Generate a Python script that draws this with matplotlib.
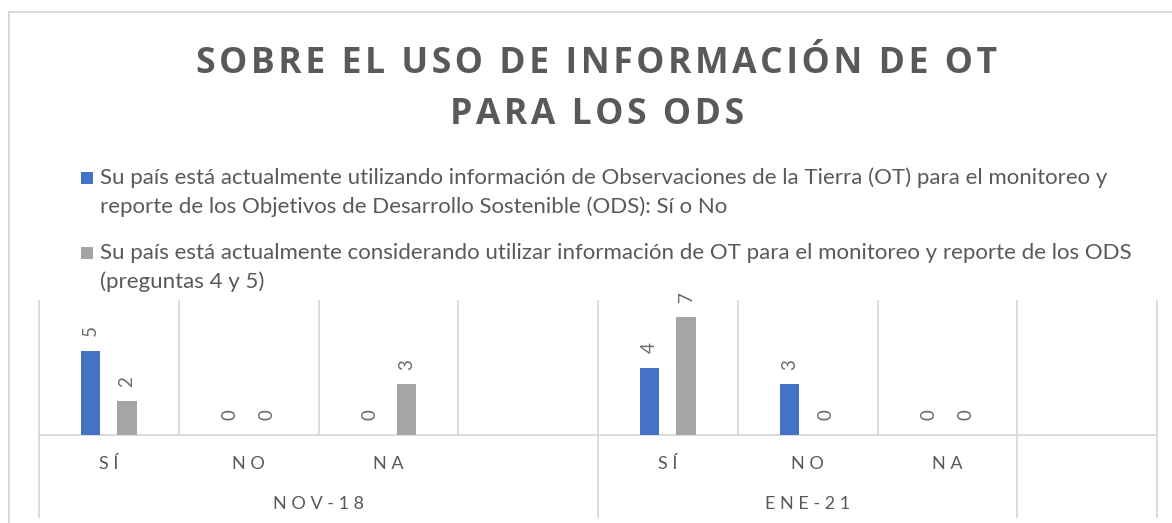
"""Sobre el uso de información de OT para los ODS: grouped bars, two survey rounds."""

import matplotlib

matplotlib.use("Agg")
import matplotlib.pyplot as plt  # noqa: E402
import numpy as np  # noqa: E402
from matplotlib.lines import Line2D  # noqa: E402
from matplotlib.patches import Rectangle  # noqa: E402
from matplotlib.transforms import blended_transform_factory  # noqa: E402

# ---- data ---------------------------------------------------------------
groups = ["NOV-18", "ENE-21", ""]
group_sizes = [4, 3, 1]
categories = ["SÍ", "NO", "NA", "", "SÍ", "NO", "NA", ""]
usando = [5, 0, 0, np.nan, 4, 3, 0, np.nan]
considerando = [2, 0, 3, np.nan, 7, 0, 0, np.nan]
series_labels = [
    ["Su país está actualmente utilizando información de Observaciones de la Tierra (OT) para el monitoreo y",
     "reporte de los Objetivos de Desarrollo Sostenible (ODS): Sí o No"],
    ["Su país está actualmente considerando utilizar información de OT para el monitoreo y reporte de los ODS",
     "(preguntas 4 y 5)"],
]
title_lines = ["SOBRE EL USO DE INFORMACIÓN DE OT", "PARA LOS ODS"]

# ---- style --------------------------------------------------------------
W, H, DPI = 1172, 523, 100
BLUE = "#4472C4"
GRAY = "#A5A5A5"
TEXT = "#595959"
GRID = "#D9D9D9"
BODY_FONT = ["Lato", "DejaVu Sans"]
TITLE_FONT = ["Open Sans", "DejaVu Sans"]


def fx(px):
    return px / W


def fy(py):
    return 1 - py / H


def spaced(s, sep):
    return sep.join(s)


def fit_width(fig, txt, target_px):
    r = fig.canvas.get_renderer()
    for _ in range(2):
        w = txt.get_window_extent(renderer=r).width
        txt.set_fontsize(txt.get_fontsize() * target_px / w)
    return txt.get_fontsize()


fig = plt.figure(figsize=(W / DPI, H / DPI), dpi=DPI, facecolor="white")

# chart-area border (left + top only are visible)
fig.add_artist(Line2D([fx(9), fx(9)], [0, fy(12)], color=GRID, lw=1.4))
fig.add_artist(Line2D([fx(9), 1], [fy(12), fy(12)], color=GRID, lw=1.4))

# ---- title --------------------------------------------------------------
t1 = fig.text(fx(597), fy(73), spaced(title_lines[0], "\u200a"), ha="center", va="baseline",
              family=TITLE_FONT, weight="bold", color=TEXT, fontsize=24)
tsize = fit_width(fig, t1, 800)
fig.text(fx(597), fy(124), spaced(title_lines[1], "\u200a"), ha="center", va="baseline",
         family=TITLE_FONT, weight="bold", color=TEXT, fontsize=tsize)

# ---- legend (drawn by hand so the wrapped lines sit like the original) ---
l1 = fig.text(fx(100), fy(184), series_labels[0][0], ha="left", va="baseline",
              family=BODY_FONT, color=TEXT, fontsize=13)
lsize = fit_width(fig, l1, 1005)
fig.text(fx(100), fy(213), series_labels[0][1], ha="left", va="baseline",
         family=BODY_FONT, color=TEXT, fontsize=lsize)
fig.text(fx(100), fy(259), series_labels[1][0], ha="left", va="baseline",
         family=BODY_FONT, color=TEXT, fontsize=lsize)
fig.text(fx(100), fy(288), series_labels[1][1], ha="left", va="baseline",
         family=BODY_FONT, color=TEXT, fontsize=lsize)
for color, top in [(BLUE, 172), (GRAY, 247)]:
    fig.add_artist(Rectangle((fx(81), fy(top + 12)), 12 / W, 12 / H,
                             transform=fig.transFigure, color=color, lw=0))

# ---- bars ---------------------------------------------------------------
ax = fig.add_axes([fx(39), fy(435), 1118 / W, 135 / H])
x = np.arange(len(categories))
bw = 0.137
b1 = ax.bar(x - 0.13, usando, bw, color=BLUE)
b2 = ax.bar(x + 0.13, considerando, bw, color=GRAY)

for bars, vals in [(b1, usando), (b2, considerando)]:
    for bar, v in zip(bars, vals):
        if np.isnan(v):
            continue
        ax.annotate(f"{v:g}", (bar.get_x() + bar.get_width() / 2, v),
                    xytext=(0, 10.5), textcoords="offset points", rotation=90,
                    ha="center", va="bottom", fontsize=13.5, color="#6B6B6B",
                    family=BODY_FONT, annotation_clip=False)

ax.set_xlim(-0.5, len(categories) - 0.5)
ax.set_ylim(0, 8)
ax.set_xticks([])
ax.set_yticks([])
for s in ax.spines.values():
    s.set_visible(False)

# category gridlines + baseline
bounds = np.arange(len(categories) + 1) - 0.5
ax.vlines(bounds, 0, 8, color=GRID, lw=1.3, zorder=0, clip_on=False)
ax.axhline(0, color=GRID, lw=1.3, zorder=0.5, clip_on=False)

# two-level category axis
trans = blended_transform_factory(ax.transData, ax.transAxes)
for xi, cat in zip(x, categories):
    ax.text(xi, -0.215, spaced(cat, " "), transform=trans, ha="center", va="center",
            fontsize=13, color=TEXT, family=BODY_FONT)

edges = np.concatenate([[0], np.cumsum(group_sizes)]) - 0.5
ax.vlines(edges, -0.615, 0, transform=trans, color=GRID, lw=1.3, clip_on=False)
for g, lo, hi in zip(groups, edges[:-1], edges[1:]):
    ax.text((lo + hi) / 2, -0.511, spaced(g, " "), transform=trans, ha="center",
            va="center", fontsize=13, color=TEXT, family=BODY_FONT)

fig.savefig("out.png", dpi=DPI, facecolor="white")
plt.close(fig)
